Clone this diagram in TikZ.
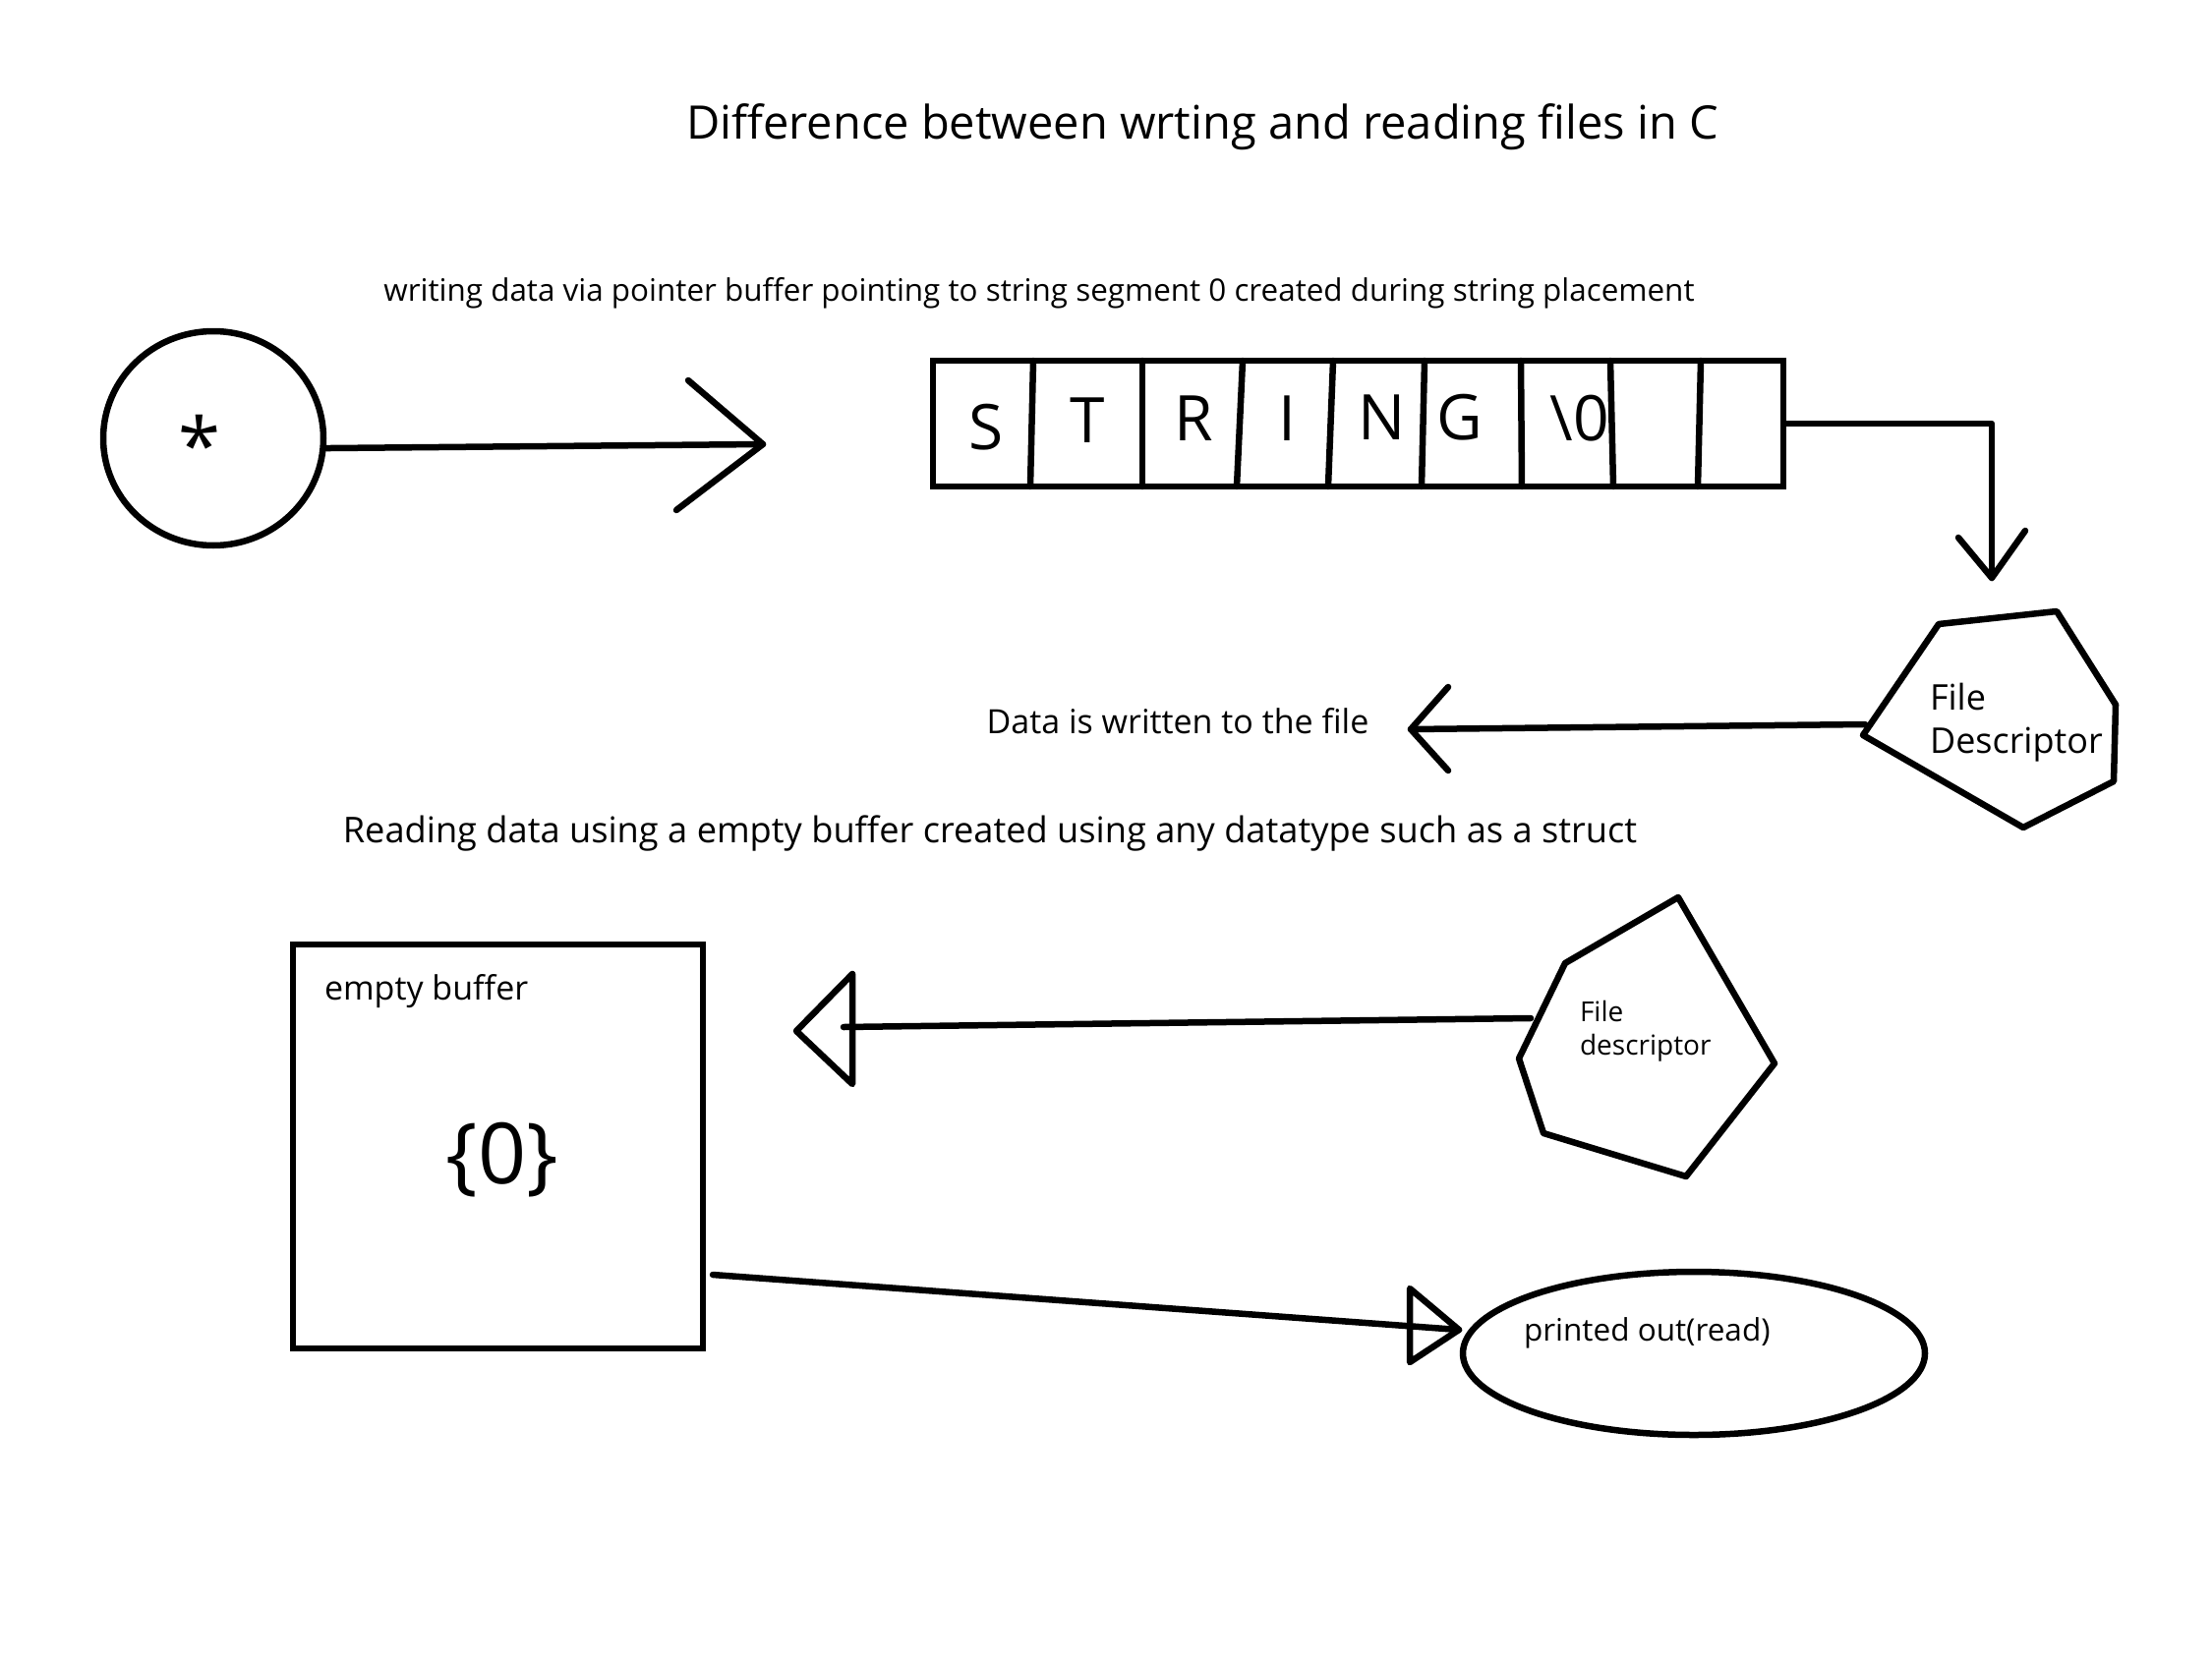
\documentclass[tikz,border=0pt]{standalone}
\usepackage{fontspec}
\setmainfont{Open Sans}
\usetikzlibrary{shapes.geometric}
\begin{document}
\begin{tikzpicture}[x=1pt,y=-1pt,line width=6.5pt,line join=round,line cap=round,
  lbl/.style={inner sep=0pt,outer sep=0pt},
  letter/.style={inner sep=0pt,anchor=base,font=\fontsize{64}{72}\selectfont}]
\useasboundingbox (0,0) rectangle (2250,1688);
\fill[white] (0,0) rectangle (2250,1688);

% texts
\node[lbl,font=\fontsize{47}{56}\selectfont] (title) at (1223,129) {Difference between wrting and reading files in C};
\node[lbl,font=\fontsize{31.4}{38}\selectfont] (sub) at (1057,298) {writing data via pointer buffer pointing to string segment 0 created during string placement};
\node[lbl,font=\fontsize{34}{40}\selectfont] (written) at (1198,734) {Data is written to the file};
\node[lbl,font=\fontsize{36.2}{44}\selectfont] (reading) at (1007,848) {Reading data using a empty buffer created using any datatype such as a struct};

% pointer circle
\node[draw,ellipse,minimum width=224pt,minimum height=218pt,inner sep=0pt] (circ) at (217,446) {};
\node[lbl,font=\fontsize{78}{90}\selectfont,anchor=base] (star) at (203,481) {*};
\coordinate (tipA) at (776,452);
\coordinate (barbA1) at (700,387);
\coordinate (barbA2) at (688,519);
\draw (circ.-5) -- (tipA);
\draw (barbA1) -- (tipA) -- (barbA2);

% string array
\node[draw,rectangle,minimum width=865pt,minimum height=128pt,inner sep=0pt,line join=miter] (str) at (1381.5,431) {};
\draw (1051,367) -- (1048,495);
\draw (1162,367) -- (1162,495);
\draw (1264,367) -- (1258,495);
\draw (1356,367) -- (1351,495);
\draw (1449,367) -- (1446,495);
\draw (1547,367) -- (1548,495);
\draw (1638,367) -- (1641,495);
\draw (1730,367) -- (1727,495);
\node[letter] (cS) at (1003,457) {S};
\node[letter] (cT) at (1106,450) {T};
\node[letter] (cR) at (1214,448) {R};
\node[letter] (cI) at (1309,448) {I};
\node[letter] (cN) at (1406,447) {N};
\node[letter] (cG) at (1485,447) {G};
\node[letter] (cZ) at (1607,448) {\textbackslash 0};

\coordinate (tipB) at (2026,588);
\draw (str.east) -| (tipB);
\draw (1992,547) -- (tipB) -- (2060,540);

% first file descriptor pentagon
\coordinate (pa1) at (1972,635);
\coordinate (pa2) at (2092,622);
\coordinate (pa3) at (2152,717);
\coordinate (pa4) at (2150,795);
\coordinate (pa5) at (2058,842);
\coordinate (pa6) at (1895,748);
\draw (pa1) -- (pa2) -- (pa3) -- (pa4) -- (pa5) -- (pa6) -- cycle;
\node[lbl,font=\fontsize{36}{44}\selectfont,align=left,anchor=north west] (fd1) at (1963,695) {File\\Descriptor};
\coordinate (fdAout) at (1897,737);
\coordinate (tipC) at (1435,742);
\draw (fdAout) -- (tipC);
\draw (1473,699) -- (tipC) -- (1473,784);

% empty buffer
\node[draw,rectangle,minimum width=417pt,minimum height=411pt,inner sep=0pt,line join=miter] (buf) at (506.5,1166.5) {};
\node[lbl,font=\fontsize{34}{40}\selectfont,anchor=west] (buflbl) at (330,1009) {empty buffer};
\node[lbl,font=\fontsize{86}{96}\selectfont] (zero) at (511,1180) {\{0\}};

% second file descriptor pentagon
\coordinate (pb1) at (1707,913);
\coordinate (pb2) at (1805,1082);
\coordinate (pb3) at (1715,1197);
\coordinate (pb4) at (1570,1153);
\coordinate (pb5) at (1545,1077);
\coordinate (pb6) at (1592,980);
\draw (pb1) -- (pb2) -- (pb3) -- (pb4) -- (pb5) -- (pb6) -- cycle;
\node[lbl,font=\fontsize{28}{34}\selectfont,align=left,anchor=north west] (fd2) at (1607,1018) {File\\descriptor};
\coordinate (fdBout) at (1557,1036);
\coordinate (tipD) at (858,1045);
\draw (fdBout) -- (tipD);
\coordinate (triD1) at (867,991);
\coordinate (triD2) at (810,1049);
\coordinate (triD3) at (867,1103);
\draw (triD1) -- (triD2) -- (triD3) -- cycle;

% output ellipse
\node[draw,ellipse,minimum width=470pt,minimum height=166pt,inner sep=0pt] (out) at (1723,1377) {};
\node[lbl,font=\fontsize{31.5}{38}\selectfont,anchor=west] (outlbl) at (1550,1356) {printed out(read)};
\coordinate (bufout) at (725,1297);
\coordinate (tipE) at (1484,1353);
\draw (bufout) -- (tipE);
\draw (1434,1311) -- (tipE) -- (1434,1386) -- cycle;
\end{tikzpicture}
\end{document}
